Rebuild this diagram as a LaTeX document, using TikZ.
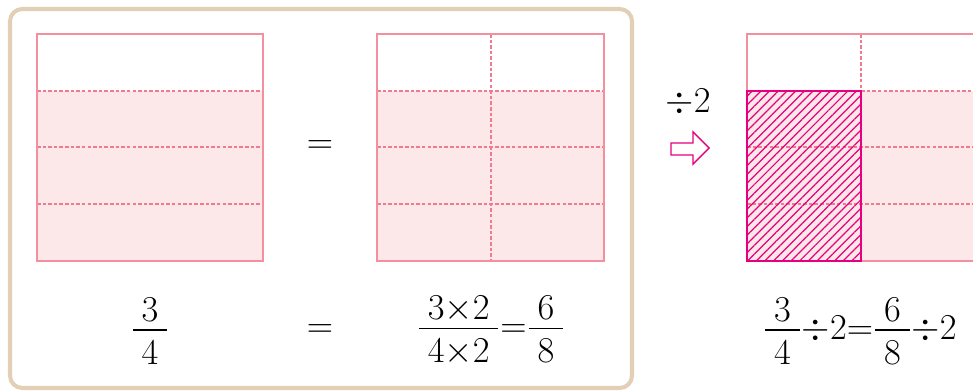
\documentclass[tikz,border=0pt]{standalone}
\usepackage{xcolor}
\usepackage{tikz}
\usetikzlibrary{patterns.meta}
\usepackage{amsmath, amssymb}

\definecolor{rosaborde}{HTML}{F2909F}
\definecolor{rosafondo}{HTML}{FCE7E9}
\definecolor{rosalinea}{HTML}{F07A90}
\definecolor{fucsia}{HTML}{E6007E}
\definecolor{marco}{HTML}{E3CFB5}

% fraccion con la raya mas larga que las cifras
\newcommand{\fraccion}[2]{\dfrac{\kern5pt\raisebox{-4pt}{$#1$}\kern5pt}{\kern5pt#2\kern5pt}}

\begin{document}
\begin{tikzpicture}[x=0.02cm, y=-0.02cm,
    formula/.style={inner sep=0pt, font=\fontsize{22.5}{27}\selectfont},
    borde/.style={draw=rosaborde, line width=0.8pt},
    linea/.style={draw=rosalinea, line width=0.6pt, dash pattern=on 2pt off 1.2pt}]
    \useasboundingbox (0,0) rectangle (973,391);
    \clip (0,0) rectangle (973,391);

    % Dibujar el marco redondeado
    \draw[marco, line width=2.3pt, rounded corners=7pt] (10,9) rectangle (632,388);

    % Rectangulo de la izquierda (3/4)
    \fill[rosafondo] (37,91) rectangle (263,261);
    \draw[linea] (37,91) -- (263,91);
    \draw[linea] (37,147) -- (263,147);
    \draw[linea] (37,204) -- (263,204);
    \draw[borde] (37,34) rectangle (263,261);

    \node[formula] (igual1) at (320,147) {$=$};

    % Rectangulo del medio (6/8)
    \fill[rosafondo] (377,91) rectangle (604,261);
    \draw[linea] (377,91) -- (604,91);
    \draw[linea] (377,147) -- (604,147);
    \draw[linea] (377,204) -- (604,204);
    \draw[linea] (491,34) -- (491,261);
    \draw[borde] (377,34) rectangle (604,261);

    % Flecha y division entre 2
    \node[formula] (entre2) at (688,102) {$\div2$};
    \draw[fucsia, line width=0.8pt, fill=white]
        (671,143) -- (693,143) -- (693,132) -- (709,148) -- (693,164) -- (693,155) -- (671,155) -- cycle;

    % Rectangulo de la derecha (sale del dibujo)
    \fill[rosafondo] (747,91) rectangle (990,261);
    \draw[linea] (861,91) -- (990,91);
    \draw[linea] (747,147) -- (990,147);
    \draw[linea] (747,204) -- (990,204);
    \draw[linea] (861,34) -- (861,91);
    \draw[borde] (747,34) rectangle (990,261);
    % la parte rayada
    \draw[fucsia, line width=1.4pt, pattern={Lines[angle=45, distance=3.5pt, line width=0.7pt]}, pattern color=fucsia]
        (747,91) rectangle (861,261);

    % Formulas de abajo
    \node[formula] (tresc) at (150,331) {$\fraccion{3}{4}$};
    \node[formula] (igual2) at (320,331) {$=$};
    \node[formula] (seisoc) at (491,331) {$\fraccion{3{\times}2}{4{\times}2}{=}\fraccion{6}{8}$};
    \node[formula] (mitad) at (860,331) {$\fraccion{3}{4}{\div}2{=}\fraccion{6}{8}{\div}2$};

\end{tikzpicture}
\end{document}
